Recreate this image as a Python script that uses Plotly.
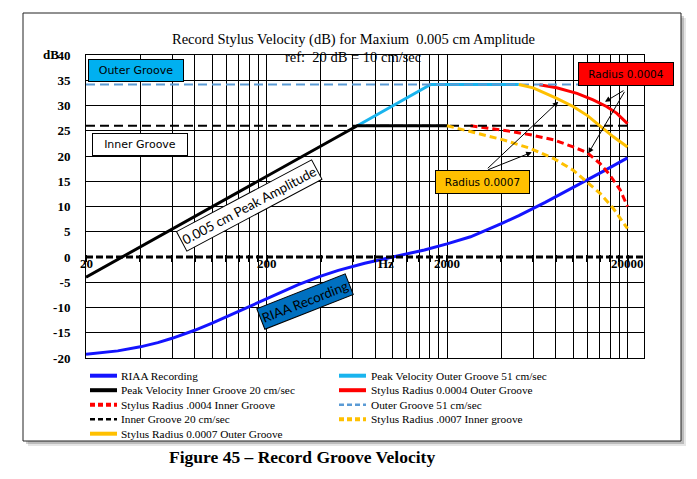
import math
import plotly.graph_objects as go

# ---------------- data ----------------
riaa_freq = [20, 30, 40, 50, 60, 80, 100, 150, 200, 300, 400, 500, 700, 1000,
             1500, 2000, 2700, 4000, 5000, 7000, 10000, 15000, 20000]
riaa_db = [-19.27, -18.59, -17.79, -16.95, -16.10, -14.51, -13.09, -10.27, -8.22,
           -5.48, -3.78, -2.65, -1.23, 0.0, 1.40, 2.59, 4.0, 6.61, 8.21, 10.82,
           13.74, 17.16, 19.62]

peak_outer_freq = [637, 1623, 5000]
peak_outer_db = [26.0, 34.15, 34.15]

peak_inner_freq = [20, 637, 2000]
peak_inner_db = [-4.0, 26.0, 26.0]

r4_outer_freq = [6500, 8100, 10500, 12900, 15300, 17400, 20000]
r4_outer_db = [34.1, 33.5, 32.4, 31.1, 29.8, 28.5, 26.4]

r4_inner_freq = [2700, 4100, 5800, 7800, 10000, 11900, 14100, 16000, 18200, 20000]
r4_inner_db = [26.0, 25.1, 24.2, 23.2, 21.8, 20.7, 18.5, 16.2, 13.3, 10.0]

outer_ref_freq = [20, 20000]
outer_ref_db = [34.15, 34.15]

inner_ref_freq = [20, 20000]
inner_ref_db = [26.0, 26.0]

r7_inner_freq = [2000, 2700, 4100, 5800, 7800, 10000, 11900, 14100, 16700, 20000]
r7_inner_db = [26.0, 24.8, 23.2, 21.5, 19.5, 17.2, 14.9, 12.6, 9.6, 5.6]

r7_outer_freq = [5000, 6000, 8000, 10000, 12000, 14000, 16700, 20000]
r7_outer_db = [34.15, 33.5, 31.5, 29.8, 28.0, 26.1, 23.8, 21.8]

series_names = [
    "RIAA Recording",
    "Peak Velocity Outer Groove 51 cm/sec",
    "Peak Velocity Inner Groove 20 cm/sec",
    "Stylus Radius 0.0004 Outer Groove",
    "Stylus Radius .0004 Inner Groove",
    "Outer Groove 51 cm/sec",
    "Inner Groove 20 cm/sec",
    "Stylus Radius .0007 Inner groove",
    "Stylus Radius 0.0007 Outer Groove",
]

x_grid_vals = [20, 40, 60, 80, 100, 120, 140, 160, 180,
               200, 400, 600, 800, 1000, 1200, 1400, 1600, 1800,
               2000, 4000, 6000, 8000, 10000, 12000, 14000, 16000, 18000, 20000]
x_label_vals = [20, 200, 2000, 20000]
x_label_text = ["20", "200", "2000", "20000"]
y_tick_vals = [-20, -15, -10, -5, 0, 5, 10, 15, 20, 25, 30, 35, 40]
y_tick_text = ["-20", "-15", "-10", "-5", "0", "5", "10", "15", "20", "25", "30", "35", "40"]

# ---------------- styles ----------------
series_data = [
    (riaa_freq, riaa_db),
    (peak_outer_freq, peak_outer_db),
    (peak_inner_freq, peak_inner_db),
    (r4_outer_freq, r4_outer_db),
    (r4_inner_freq, r4_inner_db),
    (outer_ref_freq, outer_ref_db),
    (inner_ref_freq, inner_ref_db),
    (r7_inner_freq, r7_inner_db),
    (r7_outer_freq, r7_outer_db),
]
series_style = [
    dict(color="#1414FF", width=3, dash="solid"),
    dict(color="#19B4EE", width=3, dash="solid"),
    dict(color="#000000", width=3, dash="solid"),
    dict(color="#FF0000", width=3, dash="solid"),
    dict(color="#FF0000", width=3, dash="7px,4px"),
    dict(color="#5B9BD5", width=2, dash="9px,5px"),
    dict(color="#000000", width=2, dash="9px,5px"),
    dict(color="#FFC000", width=3, dash="7px,4px"),
    dict(color="#FFC000", width=3, dash="solid"),
]

W, H = 697, 479
ML, MR, MT, MB = 86, 53, 55, 121
PW, PH = W - ML - MR, H - MT - MB


def px(x):
    return (x - ML) / PW


def py(y):
    return (H - MB - y) / PH


SERIF = "Liberation Serif"

fig = go.Figure()
for (fx, fy), name, st in zip(series_data, series_names, series_style):
    fig.add_trace(go.Scatter(x=fx, y=fy, mode="lines", name=name,
                             line=dict(color=st["color"], width=st["width"], dash=st["dash"]),
                             showlegend=False, hoverinfo="skip"))

# invisible trace to activate the tick axis on the zero line
fig.add_trace(go.Scatter(x=[x_grid_vals[0]], y=[0], xaxis="x2", mode="markers",
                         marker=dict(opacity=0), showlegend=False, hoverinfo="skip"))

xr = [math.log10(20), math.log10(20) + PW / 180.5]

shapes = []
# outer frame with shadow
shapes.append(dict(type="rect", xref="paper", yref="paper", layer="below",
                   x0=px(28), x1=px(686), y0=py(446), y1=py(18),
                   fillcolor="rgba(0,0,0,0.10)", line=dict(width=0)))
shapes.append(dict(type="rect", xref="paper", yref="paper", layer="below",
                   x0=px(26), x1=px(684), y0=py(444), y1=py(16),
                   fillcolor="rgba(0,0,0,0.18)", line=dict(width=0)))
shapes.append(dict(type="rect", xref="paper", yref="paper", layer="below",
                   x0=px(23), x1=px(681), y0=py(441), y1=py(13),
                   fillcolor="white", line=dict(color="#222", width=1)))
# dashed zero line
shapes.append(dict(type="line", xref="paper", yref="y", layer="above",
                   x0=0, x1=1, y0=0, y1=0,
                   line=dict(color="black", width=3, dash="7px,3px")))

# manual legend
leg_rows = [375.7, 390.2, 404.7, 419.2, 433.7]
leg_cols = [(90, 117, 119), (339, 366, 369)]
annotations = []
for i, (name, st) in enumerate(zip(series_names, series_style)):
    r, c = i // 2, i % 2
    x0, x1, xt = leg_cols[c]
    yy = leg_rows[r]
    lw = 4 if st["width"] >= 3 else 2.5
    dash = st["dash"]
    if dash != "solid":
        dash = "5px,3px"
    shapes.append(dict(type="line", xref="paper", yref="paper",
                       x0=px(x0), x1=px(x1), y0=py(yy), y1=py(yy),
                       line=dict(color=st["color"], width=lw, dash=dash)))
    annotations.append(dict(xref="paper", yref="paper", x=px(xt), y=py(yy),
                            xanchor="left", yanchor="middle", showarrow=False,
                            text=name, font=dict(family=SERIF, size=11.3, color="black")))

# titles
annotations.append(dict(xref="paper", yref="paper", x=px(353), y=py(29.5), showarrow=False,
                        text="Record Stylus Velocity (dB) for Maxium\u00a0 0.005 cm Amplitude",
                        font=dict(family=SERIF, size=14.5, color="black")))
annotations.append(dict(xref="paper", yref="paper", x=px(353), y=py(47), showarrow=False,
                        text="ref:\u00a0 20 dB = 10 cm/sec",
                        font=dict(family=SERIF, size=14.5, color="black")))
annotations.append(dict(xref="paper", yref="paper", x=px(41), y=py(45.5), showarrow=False,
                        text="<b>dB</b>", font=dict(family=SERIF, size=13, color="black")))
annotations.append(dict(xref="paper", yref="paper", x=px(302), y=py(469), showarrow=False,
                        text="<b>Figure 45 \u2013 Record Groove Velocity</b>",
                        font=dict(family=SERIF, size=17.5, color="black")))

# x labels along the zero line
for v, t in zip(x_label_vals, x_label_text):
    annotations.append(dict(xref="x", yref="paper", x=math.log10(v), y=py(272.5), showarrow=False,
                            text="<b>" + t + "</b>", font=dict(family=SERIF, size=13, color="black")))
annotations.append(dict(xref="paper", yref="paper", x=px(385.7), y=py(272.5), showarrow=False,
                        text="<b>Hz</b>", font=dict(family=SERIF, size=13, color="black")))

# text boxes
BOXF = "DejaVu Sans"
def box(text, cx, cy, w, h, bg, font, size, angle=0):
    annotations.append(dict(xref="paper", yref="paper", x=px(cx), y=py(cy), showarrow=False,
                            xanchor="center", yanchor="middle", text=text, textangle=angle,
                            width=w, height=h, bgcolor=bg, bordercolor="black", borderwidth=1,
                            borderpad=0, font=dict(family=font, size=size, color="black")))

box("Outer Groove", 136.3, 70.3, 94, 21, "#00B0F0", BOXF, 11)
box("Inner Groove", 139.5, 144.7, 94, 21, "white", BOXF, 11)
box("Radius 0.0004", 626.3, 74.5, 94, 22, "#FF0000", BOXF, 10.5)
box("Radius 0.0007", 482.3, 182, 93, 22, "#FFC000", BOXF, 10.5)
box("0.005 cm Peak Amplitude", 249, 205, 152, 21, "white", "Lato", 13.3, angle=-28)
box("RIAA Recording", 305.3, 301.5, 94, 21, "#0070C0", "Lato", 13.3, angle=-21.5)

# arrows (tip in data coordinates, tail offset in pixels)
arrows = [
    (15010, 30.75, 20, -12),
    (12140, 20.53, 37, -63),
    (8270, 30.75, -72, 68),
    (5890, 20.73, -45, 18),
]
for fx, fy, ax, ay in arrows:
    annotations.append(dict(xref="x", yref="y", x=math.log10(fx), y=fy, ax=ax, ay=ay,
                            text="", showarrow=True, arrowhead=2, arrowsize=1.1,
                            arrowwidth=1, arrowcolor="black", standoff=0))

fig.update_layout(
    width=W, height=H,
    margin=dict(l=ML, r=MR, t=MT, b=MB),
    paper_bgcolor="white", plot_bgcolor="rgba(0,0,0,0)",
    showlegend=False,
    shapes=shapes, annotations=annotations,
    xaxis=dict(type="log", range=xr, tickvals=x_grid_vals, showticklabels=False,
               showgrid=True, gridcolor="black", gridwidth=1, ticks="",
               showline=True, linecolor="black", linewidth=1, mirror=True, zeroline=False),
    xaxis2=dict(type="log", range=xr, overlaying="x", anchor="free", position=py(253.5),
                tickvals=x_grid_vals, showticklabels=False, showgrid=False,
                ticks="outside", ticklen=7, tickwidth=2, tickcolor="black",
                showline=False, zeroline=False),
    yaxis=dict(range=[-20, 40], tickvals=y_tick_vals, ticktext=y_tick_text,
               showgrid=True, gridcolor="black", gridwidth=1,
               ticks="outside", ticklen=12, tickcolor="rgba(0,0,0,0)",
               tickfont=dict(family=SERIF, size=13, color="black", weight="bold"),
               showline=True, linecolor="black", linewidth=1, mirror=True,
               zeroline=True, zerolinecolor="white", zerolinewidth=3),
)

fig.write_html("out.html", config={"displayModeBar": False},
               post_script="document.body.style.margin='0px';document.body.style.overflow='hidden';")
